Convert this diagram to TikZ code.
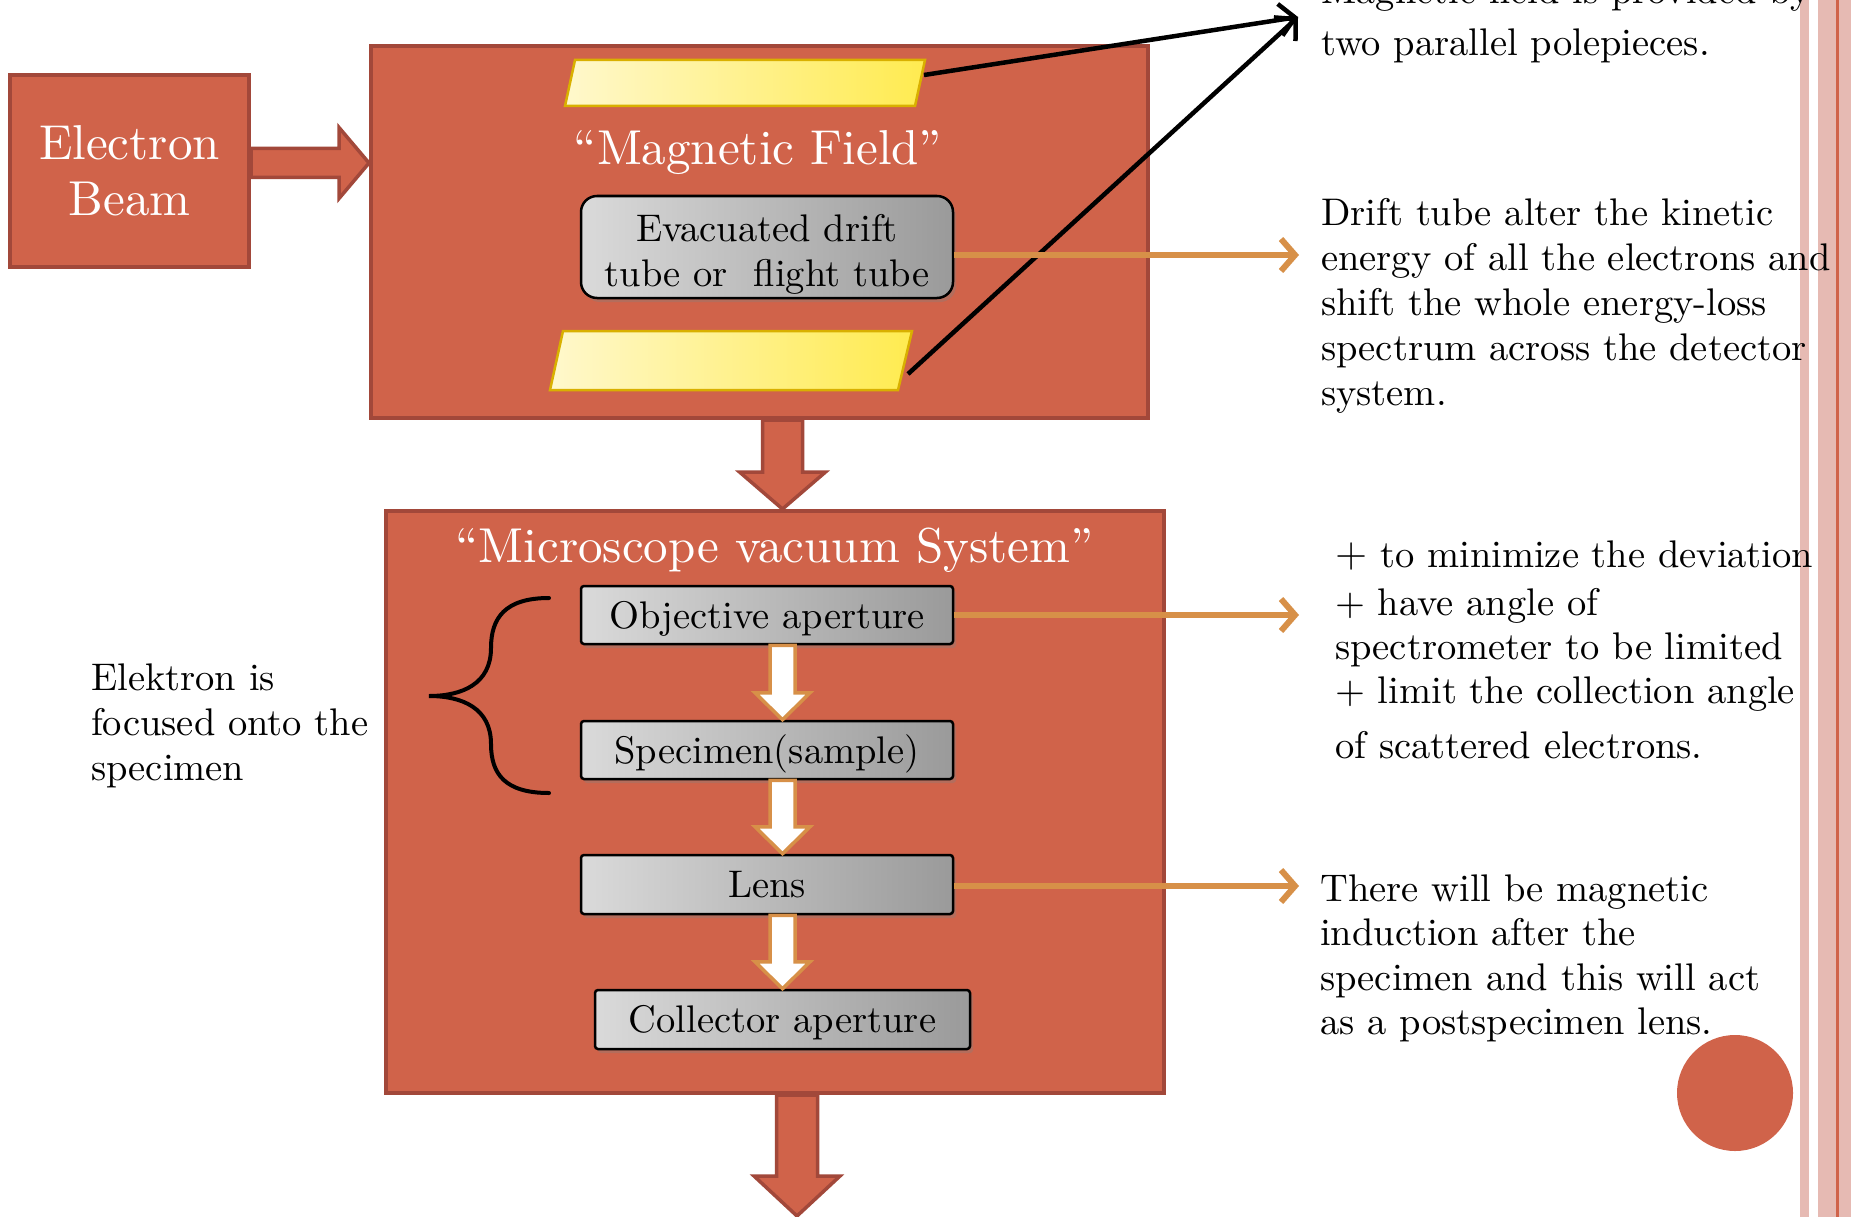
\documentclass[tikz,border=0pt]{standalone}
\usepackage{fontspec}
\setmainfont{lmroman10-regular}[Extension=.otf]
\usetikzlibrary{arrows.meta,shadows,calc}
\definecolor{boxred}{HTML}{D0634A}
\definecolor{boxedge}{HTML}{A2483A}
\definecolor{orangecon}{HTML}{D79048}
\definecolor{stripepink}{HTML}{E6BAB3}
\definecolor{ylight}{HTML}{FFF8CC}
\definecolor{ydark}{HTML}{FFEB50}
\definecolor{yedge}{HTML}{D9B000}
\definecolor{glight}{HTML}{DADADA}
\definecolor{gmid}{HTML}{C8C8C8}
\definecolor{gdark}{HTML}{9A9A9A}
\newcommand\bodyfont{\fontsize{38.5}{45}\selectfont}
\newcommand\titlefont{\fontsize{49}{56}\selectfont}
\newcommand\parlines[2]{\vtop{\baselineskip=#1\relax\lineskiplimit=-100pt\lineskip=0pt\halign{##\hfil\cr#2\crcr}}}
\newcommand\blockdown[6]{\draw[#1] let \p1=(#2), \p2=(#3) in
  (\x1-#4pt,\y1) -- (\x1-#4pt,\y2+#6pt) -- (\x1-#5pt,\y2+#6pt) -- (\x1,\y2)
  -- (\x1+#5pt,\y2+#6pt) -- (\x1+#4pt,\y2+#6pt) -- (\x1+#4pt,\y1) -- cycle;}
\begin{document}
\begin{tikzpicture}[x=1pt,y=-1pt,
  redbox/.style={fill=boxred, draw=boxedge, line width=4pt, inner sep=0pt},
  graybox/.style={draw=black, line width=2.5pt, left color=glight, middle color=gmid, right color=gdark,
    font=\bodyfont, inner sep=0pt, rounded corners=3pt, text height=30pt, text depth=4pt,
    drop shadow={shadow xshift=3pt,shadow yshift=-4pt,opacity=.35}},
  polepiece/.style={left color=ylight, right color=ydark, draw=yedge, line width=2.5pt},
  redarrow/.style={fill=boxred, draw=boxedge, line width=3.5pt, line join=miter},
  whitearrow/.style={fill=white, draw=orangecon, line width=3.5pt, line join=miter},
  orangeline/.style={draw=orangecon, line width=6pt, -{Straight Barb[length=14pt,width=32pt]}},
  blackline/.style={draw=black, line width=4.5pt, -{Straight Barb[length=15pt,width=32pt]}},
  bodytext/.style={font=\bodyfont, inner sep=0pt, anchor=base west},
  titletext/.style={font=\titlefont, text=white, inner sep=0pt, anchor=base}]
\useasboundingbox (0,0) rectangle (1851,1217);
\fill[white] (0,0) rectangle (1851,1217);

% right-hand stripes
\fill[stripepink] (1800,0) rectangle (1809,1217);
\fill[stripepink] (1818,0) rectangle (1851,1217);
\fill[boxred] (1836,0) rectangle (1838.5,1217);

% main boxes
\node[redbox, minimum width=239pt, minimum height=192pt, align=center, text=white, font=\titlefont] (eb) at (129.5,171) {Electron\\Beam};
\node[redbox, minimum width=777pt, minimum height=372pt] (mag) at (759.5,232) {};
\node[redbox, minimum width=778pt, minimum height=582pt] (mic) at (775,802) {};

% pole pieces
\shadedraw[polepiece] (575,60) -- (925,60) -- (915,106) -- (565,106) -- cycle;
\shadedraw[polepiece] (563,331) -- (912,331) -- (898,390) -- (550,390) -- cycle;
\coordinate (p1) at (924,75);
\coordinate (p2) at (908,374);

% titles
\node[titletext] (magtitle) at (758,165) {``Magnetic Field''};
\node[titletext] (mictitle) at (774.5,562) {``Microscope vacuum System''};

% gray boxes
\node[graybox, rounded corners=16pt, minimum width=372pt, minimum height=102pt, text height=50pt, text depth=21pt] (drift) at (767,247)
  {\begin{tabular}{@{}c@{}}Evacuated drift\\tube or~ flight tube\end{tabular}};
\node[graybox, minimum width=372pt, minimum height=58pt] (obj) at (767,615) {Objective aperture};
\node[graybox, minimum width=372pt, minimum height=58pt] (spec) at (767,750) {Specimen(sample)};
\node[graybox, minimum width=372pt, minimum height=59pt] (lens) at (767,884.5) {Lens};
\node[graybox, minimum width=375pt, minimum height=59pt] (coll) at (782.5,1019.5) {Collector aperture};

% block arrows
\draw[redarrow] let \p1=(eb.east |- 0,163), \p2=(mag.west |- 0,163) in
  (\x1,\y1+14.5pt) -- (\x2-30pt,\y1+14.5pt) -- (\x2-30pt,\y1+35.5pt) -- (\x2,\y1)
  -- (\x2-30pt,\y1-35.5pt) -- (\x2-30pt,\y1-14.5pt) -- (\x1,\y1-14.5pt) -- cycle;
\blockdown{redarrow}{mag.south -| coll.center}{mic.north -| coll.center}{20}{43}{37}
\coordinate (outend) at (797,1216);
\blockdown{redarrow}{mic.south -| outend}{outend}{20.5}{43}{40}
\blockdown{whitearrow}{obj.south -| coll.center}{spec.north -| coll.center}{12.5}{27.5}{27}
\blockdown{whitearrow}{spec.south -| coll.center}{lens.north -| coll.center}{12.5}{27.5}{27}
\blockdown{whitearrow}{lens.south -| coll.center}{coll.north}{12.5}{27.5}{27}

% connectors
\coordinate (tip) at (1298,17);
\draw[blackline] (p1) -- (tip);
\draw[blackline] (p2) -- (tip);
\coordinate (d1) at (1299,255);
\coordinate (d2) at (1299,615);
\coordinate (d3) at (1299,886);
\draw[orangeline] (drift.east |- d1) -- (d1);
\draw[orangeline] (obj.east) -- (d2);
\draw[orangeline] (lens.east |- d3) -- (d3);

% brace
\draw[line width=4pt, line cap=round] (549,598) .. controls (505,598) and (491,618) .. (491,648)
  .. controls (491,684) and (462,696) .. (429,696)
  .. controls (462,696) and (491,708) .. (491,744)
  .. controls (491,774) and (505,793) .. (549,793);

% texts
\node[bodytext] (tpole) at (1321,4) {\parlines{52pt}{Magnetic field is provided by\cr two parallel polepieces.}};
\node[bodytext] (tdrift) at (1321,225) {\parlines{45pt}{Drift tube alter the kinetic\cr energy of all the electrons and\cr shift the whole energy-loss\cr spectrum across the detector\cr system.}};
\node[bodytext] (tobj) at (1335,567) {\parlines{44pt}{{\fontsize{44}{45}\selectfont\sffamily +} to minimize the deviation\cr
  \noalign{\vskip 4pt}+ have angle of\cr spectrometer to be limited\cr + limit the collection angle\cr
  \noalign{\vskip 11pt}of scattered electrons.}};
\node[bodytext] (tlens) at (1320,901) {\parlines{44.5pt}{There will be magnetic\cr induction after the\cr specimen and this will act\cr as a postspecimen lens.}};
\node[bodytext] (tleft) at (91,690) {\parlines{45pt}{Elektron is\cr focused onto the\cr specimen}};

% decorative dot
\node[circle, fill=boxred, minimum size=116pt, inner sep=0pt] (dot) at (1735,1093) {};
\end{tikzpicture}
\end{document}
